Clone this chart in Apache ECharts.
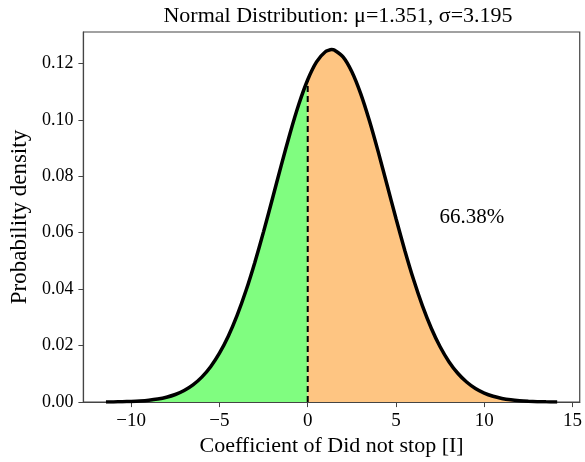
<!DOCTYPE html>
<html>
<head>
<meta charset="utf-8">
<script src="https://cdn.jsdelivr.net/npm/echarts@6/dist/echarts.min.js"></script>
<style>
html, body { margin: 0; padding: 0; background: #fff; }
#echarts_id { width: 585px; height: 462px; }
</style>
</head>
<body>
<div id="echarts_id"></div>
<script>
// 曲线上的点 (读图得到)
var curveX = [-11.429, -11, -10.5, -10, -9.5, -9, -8.5, -8, -7.5, -7, -6.5, -6, -5.5, -5, -4.5, -4, -3.5, -3, -2.5, -2, -1.5, -1, -0.5, 0,
    0.5, 1, 1.351, 1.5, 2, 2.5, 3, 3.5, 4, 4.5, 5, 5.5, 6, 6.5, 7, 7.5, 8, 8.5, 9, 9.5, 10, 10.5, 11, 11.5, 12, 12.5, 13, 13.5, 14, 14.131];
var curveY = [0.000042, 0.000071, 0.000129, 0.000227, 0.000391, 0.000657, 0.001077, 0.001723, 0.002691, 0.004100, 0.006098, 0.008847,
    0.012531, 0.017313, 0.023341, 0.030713, 0.039430, 0.049398, 0.060390, 0.072038, 0.083856, 0.095246, 0.105572, 0.114182,
    0.120509, 0.124108, 0.124864, 0.124728, 0.122314, 0.117045, 0.109293, 0.099585, 0.088545, 0.076824, 0.065039, 0.053732,
    0.043315, 0.034076, 0.026159, 0.019596, 0.014324, 0.010215, 0.007110, 0.004828, 0.003200, 0.002069, 0.001306, 0.000804,
    0.000483, 0.000283, 0.000162, 0.000091, 0.000049, 0.000042];
var cutX = 0;
var percentText = '66.38%';
var percentPos = [9.3, 0.0655];
var xTicks = [-10, -5, 0, 5, 10, 15];
var yTicks = [0, 0.02, 0.04, 0.06, 0.08, 0.1, 0.12];

var myChart = echarts.init(document.getElementById('echarts_id'));

var curve = [], left = [], right = [], cutY = 0;
for (var i = 0; i < curveX.length; i++) {
    curve.push([curveX[i], curveY[i]]);
    if (curveX[i] <= cutX) left.push([curveX[i], curveY[i]]);
    if (curveX[i] >= cutX) right.push([curveX[i], curveY[i]]);
    if (curveX[i] === cutX) cutY = curveY[i];
}

var font = 'Liberation Serif, Times New Roman, serif';

option = {
    animation: false,
    title: {
        text: 'Normal Distribution: μ=1.351, σ=3.195',
        left: 333,
        top: 0,
        textAlign: 'center',
        textStyle: { fontFamily: font, fontSize: 22, fontWeight: 'normal', color: '#000' }
    },
    grid: {
        left: 83, top: 32, right: 1, bottom: 57,
        show: true, borderColor: '#444', borderWidth: 1.2
    },
    xAxis: {
        type: 'value',
        min: -12.707, max: 15.409,
        name: 'Coefficient of Did not stop [I]',
        nameLocation: 'middle',
        nameGap: 31,
        nameTextStyle: { fontFamily: font, fontSize: 22, color: '#000' },
        axisLine: { onZero: false, lineStyle: { color: '#444', width: 1.2 } },
        axisTick: { show: true, length: 5, customValues: xTicks, lineStyle: { color: '#444' } },
        axisLabel: {
            customValues: xTicks, fontFamily: font, fontSize: 19, color: '#000', margin: 9,
            formatter: function (v) { return v < 0 ? '\u2212' + (-v) : '' + v; }
        },
        splitLine: { show: false }
    },
    yAxis: {
        type: 'value',
        min: 0, max: 0.1311,
        name: 'Probability density',
        nameLocation: 'middle',
        nameGap: 48,
        nameTextStyle: { fontFamily: font, fontSize: 23, color: '#000' },
        axisLine: { show: true, onZero: false, lineStyle: { color: '#444', width: 1.2 } },
        axisTick: { show: true, length: 5, customValues: yTicks, lineStyle: { color: '#444' } },
        axisLabel: {
            customValues: yTicks, fontFamily: font, fontSize: 18, color: '#000', margin: 10,
            formatter: function (v) { return v.toFixed(2); }
        },
        splitLine: { show: false }
    },
    series: [
        {
            type: 'line', data: left, showSymbol: false, silent: true,
            lineStyle: { width: 0 }, areaStyle: { color: '#80fd80', opacity: 1 }, z: 1
        },
        {
            type: 'line', data: right, showSymbol: false, silent: true,
            lineStyle: { width: 0 }, areaStyle: { color: '#fec582', opacity: 1 }, z: 1
        },
        {
            type: 'line', data: [[cutX, 0], [cutX, cutY]], showSymbol: false, silent: true,
            lineStyle: { color: '#000', width: 2, type: [6, 4] }, z: 3
        },
        {
            type: 'line', data: curve, showSymbol: false, silent: true, smooth: 0.2,
            lineStyle: { color: '#000', width: 3.5 }, z: 4
        },
        {
            type: 'scatter', data: [percentPos], symbolSize: 0, silent: true,
            label: {
                show: true, position: 'inside', formatter: percentText,
                fontFamily: font, fontSize: 21, color: '#000', opacity: 1
            }
        }
    ]
};

myChart.setOption(option);
</script>
</body>
</html>
